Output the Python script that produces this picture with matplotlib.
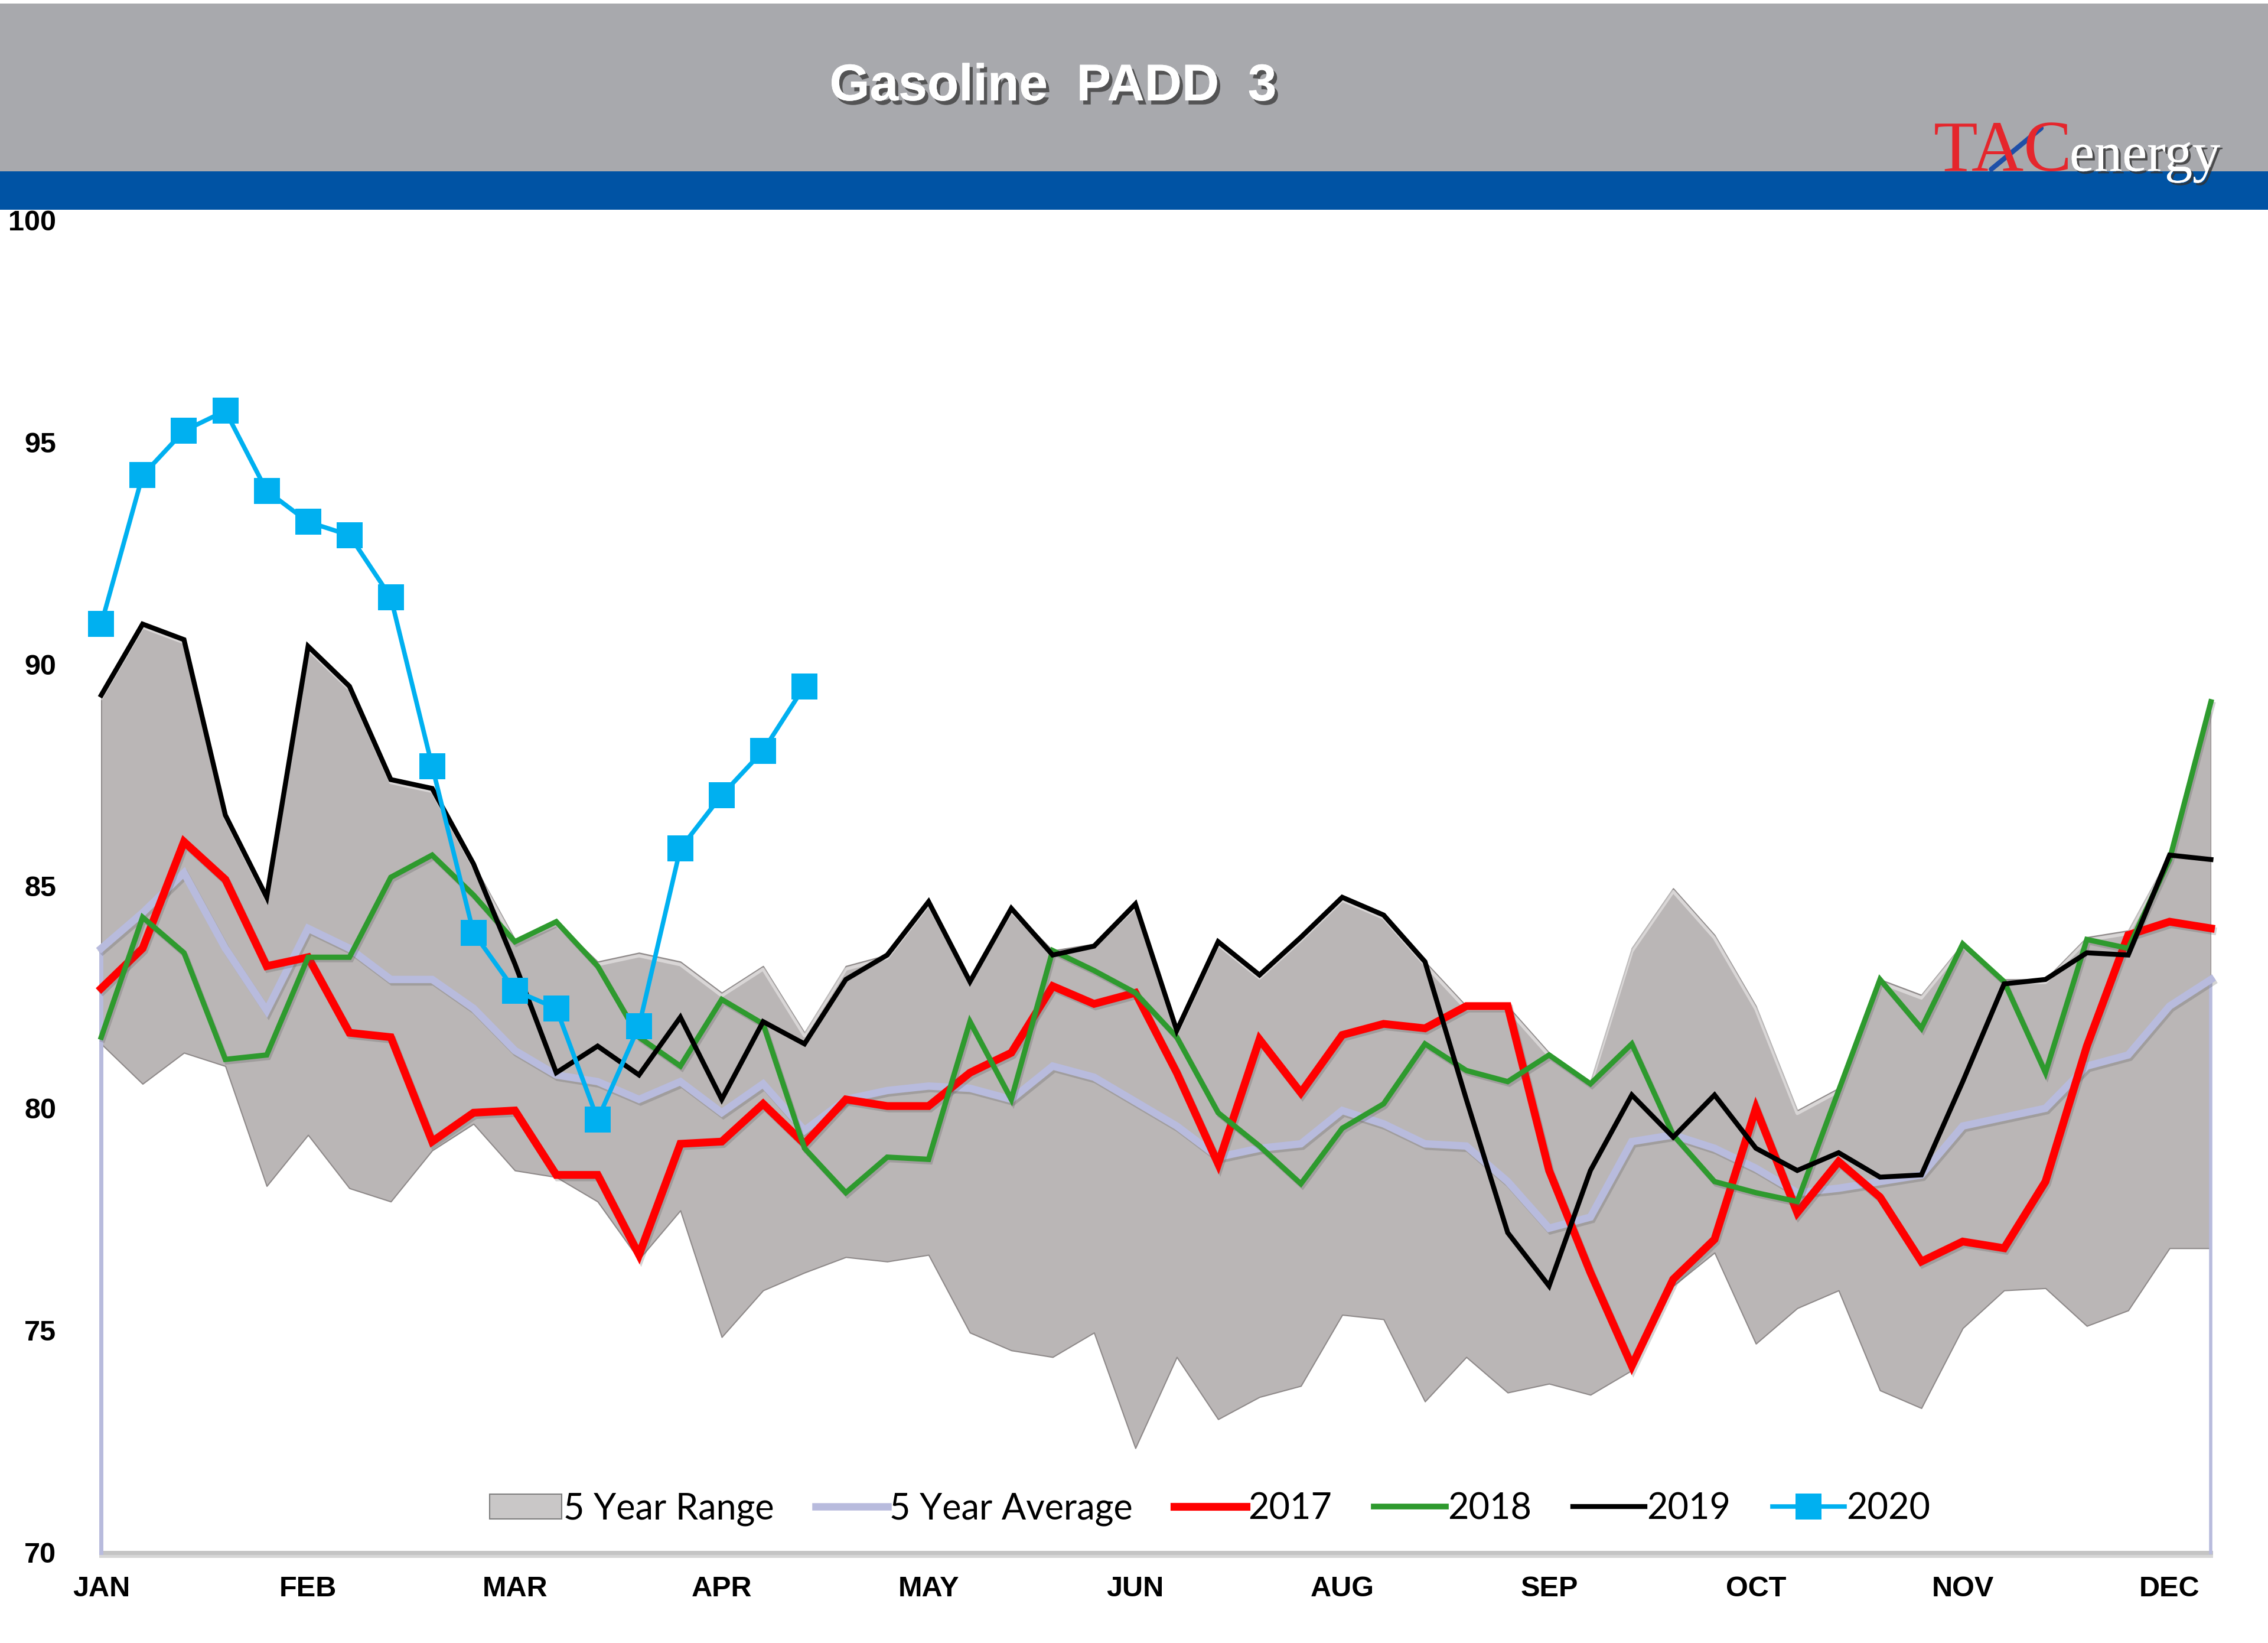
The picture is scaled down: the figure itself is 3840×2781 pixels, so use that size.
import matplotlib
matplotlib.use("Agg")
import matplotlib.pyplot as plt
import matplotlib.patheffects as pe
import matplotlib.transforms as mtransforms
from matplotlib.lines import Line2D
from matplotlib.patches import Patch, Rectangle

# ---------------- data ----------------
weeks = list(range(52))
tick_positions = [0, 5, 10, 15, 20, 25, 30, 35, 40, 45, 50]
tick_labels = ["JAN", "FEB", "MAR", "APR", "MAY", "JUN", "AUG", "SEP", "OCT", "NOV", "DEC"]
y_ticks = [70, 75, 80, 85, 90, 95, 100]

range_upper = [89.3, 90.9, 90.55, 86.6, 84.75, 90.4, 89.5, 87.4, 87.2, 85.5,
               83.8, 84.2, 83.3, 83.5, 83.3, 82.6, 83.2, 81.7, 83.2, 83.45,
               84.65, 82.9, 84.5, 83.55, 83.7, 84.6, 81.75, 83.75, 83.0, 83.85,
               84.75, 84.35, 83.3, 82.3, 82.3, 81.25, 80.6, 83.6, 84.95, 83.9,
               82.3, 79.95, 80.45, 82.9, 82.55, 83.7, 82.9, 82.9, 83.85, 84.0,
               85.7, 89.15]
range_lower = [81.45, 80.55, 81.25, 80.95, 78.25, 79.4, 78.2, 77.9, 79.05, 79.65,
               78.6, 78.45, 77.9, 76.6, 77.7, 74.85, 75.9, 76.3, 76.65, 76.55,
               76.7, 74.95, 74.55, 74.4, 74.95, 72.35, 74.4, 73.0, 73.5, 73.75,
               75.35, 75.25, 73.4, 74.4, 73.6, 73.8, 73.55, 74.1, 76.0, 76.75,
               74.7, 75.5, 75.9, 73.65, 73.25, 75.05, 75.9, 75.95, 75.1, 75.45,
               76.85, 76.85]
avg5 = [83.6, 84.4, 85.3, 83.6, 82.2, 84.05, 83.6, 82.9, 82.9, 82.25,
        81.3, 80.75, 80.6, 80.2, 80.6, 79.9, 80.55, 79.5, 80.2, 80.4,
        80.5, 80.45, 80.2, 80.95, 80.7, 80.15, 79.6, 78.9, 79.1, 79.2,
        79.95, 79.65, 79.2, 79.15, 78.35, 77.3, 77.55, 79.25, 79.4, 79.1,
        78.65, 78.1, 78.2, 78.35, 78.5, 79.6, 79.8, 80.0, 80.95, 81.2,
        82.3, 82.9]
y2017 = [82.7, 83.6, 86.0, 85.15, 83.2, 83.4, 81.7, 81.6, 79.25, 79.9,
         79.95, 78.5, 78.5, 76.7, 79.2, 79.25, 80.1, 79.2, 80.2, 80.05,
         80.05, 80.8, 81.25, 82.75, 82.35, 82.6, 80.8, 78.75, 81.55, 80.35,
         81.65, 81.9, 81.8, 82.3, 82.3, 78.6, 76.3, 74.2, 76.15, 77.05,
         80.0, 77.65, 78.8, 78.0, 76.55, 77.0, 76.85, 78.35, 81.4, 83.9,
         84.2, 84.05]
y2018 = [81.6, 84.3, 83.5, 81.1, 81.2, 83.4, 83.4, 85.2, 85.7, 84.8,
         83.75, 84.2, 83.2, 81.6, 80.95, 82.45, 81.9, 79.1, 78.1, 78.9,
         78.85, 81.95, 80.2, 83.55, 83.1, 82.6, 81.6, 79.9, 79.15, 78.3,
         79.55, 80.1, 81.45, 80.85, 80.6, 81.2, 80.55, 81.45, 79.4, 78.35,
         78.1, 77.9, 80.4, 82.9, 81.8, 83.7, 82.85, 80.8, 83.8, 83.6,
         85.6, 89.15]
y2019 = [89.3, 90.9, 90.55, 86.6, 84.75, 90.4, 89.5, 87.4, 87.2, 85.5,
         83.25, 80.8, 81.4, 80.75, 82.05, 80.2, 81.95, 81.45, 82.9, 83.45,
         84.65, 82.85, 84.5, 83.45, 83.65, 84.6, 81.75, 83.75, 83.0, 83.85,
         84.75, 84.35, 83.3, 80.2, 77.2, 76.0, 78.6, 80.3, 79.35, 80.3,
         79.1, 78.6, 79.0, 78.45, 78.5, 80.6, 82.8, 82.9, 83.5, 83.45,
         85.7, 85.6]
y2020 = [90.9, 94.25, 95.25, 95.7, 93.9, 93.2, 92.9, 91.5, 87.7, 83.95,
         82.65, 82.25, 79.75, 81.85, 85.85, 87.05, 88.05, 89.5]
weeks2020 = weeks[:len(y2020)]

# ---------------- styles ----------------
C_RANGE = "#BAB6B6"
C_AVG = "#B8BBDD"
C_2017 = "#FF0000"
C_2018 = "#2E9A2E"
C_2019 = "#000000"
C_2020 = "#00B0F0"
C_HEADER = "#A8A9AD"
C_BLUE = "#0053A4"

fig = plt.figure(figsize=(38.4, 27.81), dpi=100)
fig.patch.set_facecolor("white")

# header bands
fig.patches.append(Rectangle((0, 0.8957), 1, 0.1021, transform=fig.transFigure,
                             facecolor=C_HEADER, edgecolor="none", zorder=0))
fig.patches.append(Rectangle((0, 0.8724), 1, 0.0233, transform=fig.transFigure,
                             facecolor=C_BLUE, edgecolor="none", zorder=0))

fig.text(0.4643, 0.947, "Gasoline  PADD  3", ha="center", va="center",
         fontsize=63, fontweight="bold", color="white", family="Liberation Sans",
         path_effects=[pe.withSimplePatchShadow(offset=(4, -5), shadow_rgbFace="#4a4a4a", alpha=0.9),
                       pe.Normal()])

# logo
fig.text(0.8525, 0.896, "TAC", ha="left", va="baseline", fontsize=88,
         color="#E5262C", family="Liberation Serif")
fig.text(0.9125, 0.896, "energy", ha="left", va="baseline", fontsize=68,
         color="white", family="Liberation Serif",
         path_effects=[pe.withSimplePatchShadow(offset=(3, -3), shadow_rgbFace="#333333", alpha=0.8),
                       pe.Normal()])
fig.lines.append(Line2D([0.878, 0.900], [0.897, 0.922], transform=fig.transFigure,
                        color="#1F4FA8", lw=6, solid_capstyle="round"))

# ---------------- axes ----------------
ax = fig.add_axes([0.04464, 0.05509, 0.9302, 0.8111])
ax.set_facecolor("none")
ax.set_xlim(0, 51)
ax.set_ylim(70, 100)
for s in ax.spines.values():
    s.set_visible(False)

# 5 year range
ax.fill_between(weeks, range_lower, range_upper, facecolor=C_RANGE,
                edgecolor="#8E8989", linewidth=1.5, zorder=1)
hl = mtransforms.offset_copy(ax.transData, fig=fig, x=0, y=-5, units="dots")
ax.plot(weeks, range_upper, color="white", alpha=0.45, lw=4, transform=hl, zorder=1.5)

# axis lines
ax.plot([weeks[0], weeks[-1]], [70, 70], color="#C4C4C4", lw=5, clip_on=False, zorder=2,
        path_effects=[pe.SimpleLineShadow(offset=(0, -4), shadow_color="#999999", alpha=0.4),
                      pe.Normal()])
ax.plot([weeks[0], weeks[0]], [70, avg5[0]], color=C_AVG, lw=5, clip_on=False, zorder=2)
ax.plot([weeks[-1], weeks[-1]], [70, avg5[-1]], color=C_AVG, lw=4, clip_on=False, zorder=2)

shadow = [pe.SimpleLineShadow(offset=(2, -3), shadow_color="#555555", alpha=0.25), pe.Normal()]

ax.plot(weeks, avg5, color=C_AVG, lw=9, solid_joinstyle="miter", clip_on=False, zorder=3,
        path_effects=shadow)
ax.plot(weeks, y2017, color=C_2017, lw=9.5, solid_joinstyle="miter", clip_on=False, zorder=4,
        path_effects=shadow)
ax.plot(weeks, y2018, color=C_2018, lw=6.5, solid_joinstyle="miter", clip_on=False, zorder=5,
        path_effects=shadow)
ax.plot(weeks, y2019, color=C_2019, lw=6, solid_joinstyle="miter", clip_on=False, zorder=6)
ax.plot(weeks2020, y2020, color=C_2020, lw=5.5, marker="s", markersize=31,
        markeredgewidth=0, clip_on=False, zorder=7)

# ticks
ax.set_xticks(tick_positions)
ax.set_xticklabels(tick_labels)
ax.set_yticks(y_ticks)
ax.set_yticklabels([str(v) for v in y_ticks])
ax.tick_params(axis="x", length=0, pad=28)
ax.tick_params(axis="y", length=0, pad=55)
for lab in ax.get_xticklabels() + ax.get_yticklabels():
    lab.set_fontfamily("Liberation Sans")
    lab.set_fontweight("bold")
    lab.set_fontsize(35)

# legend
handles = [
    Patch(facecolor="#C9C7C7", edgecolor="#7F7F7F", linewidth=1.5),
    Line2D([], [], color=C_AVG, lw=9),
    Line2D([], [], color=C_2017, lw=9.5),
    Line2D([], [], color=C_2018, lw=7),
    Line2D([], [], color=C_2019, lw=6),
    Line2D([], [], color=C_2020, lw=5.5, marker="s", markersize=31, markeredgewidth=0),
]
labels = ["5 Year Range", "5 Year Average", "2017", "2018", "2019", "2020"]
fig.legend(handles, labels, loc="center", bbox_to_anchor=(0.5334, 0.0816), ncol=6,
           frameon=False, handlelength=2.0, handleheight=0.7, handletextpad=0.05,
           columnspacing=1.15, prop={"family": "Lato", "size": 44})

fig.savefig("out.png", dpi=100, facecolor="white")
